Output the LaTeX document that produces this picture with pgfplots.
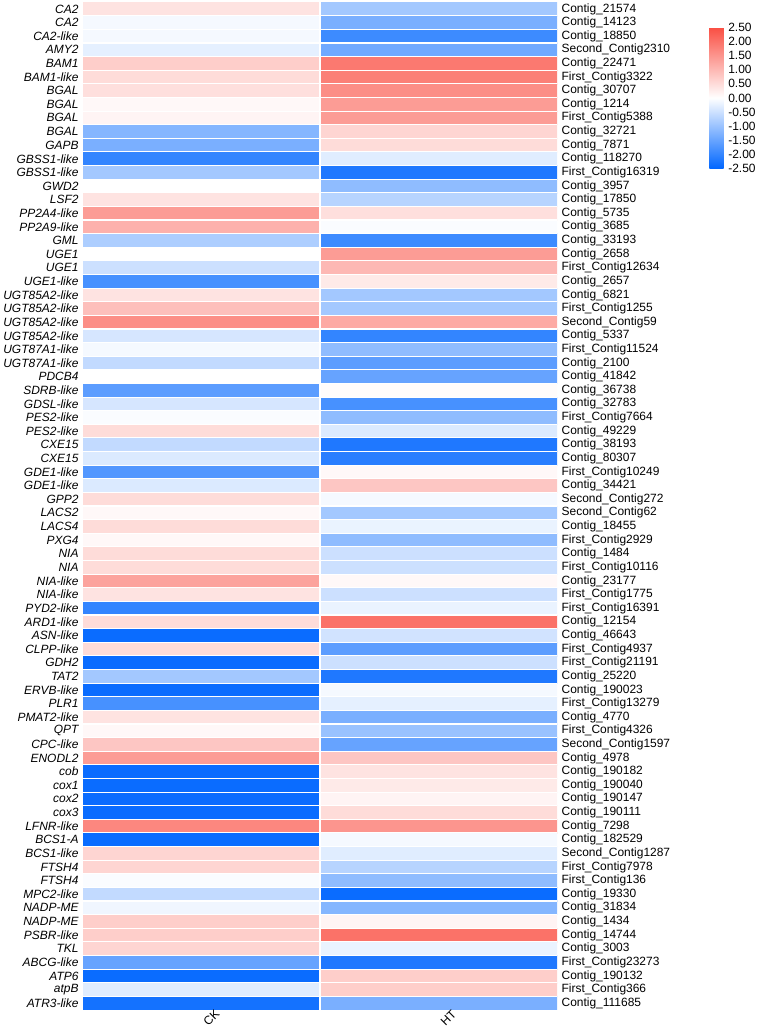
\documentclass[border=0pt]{standalone}
\usepackage{fontspec}
\setmainfont{Liberation Sans}
\usepackage{pgfplots}
\pgfplotsset{compat=1.18}
\usepackage{pgfplotstable}

\pgfplotstableread{
x y v
0 0 0.4
1 0 -0.9
0 1 -0.1
1 1 -1.3
0 2 -0.1
1 2 -1.9
0 3 -0.25
1 3 -1.4
0 4 0.7
1 4 1.9
0 5 0.5
1 5 1.8
0 6 0.45
1 6 1.6
0 7 0.1
1 7 1.4
0 8 0.15
1 8 1.4
0 9 -1.2
1 9 0.6
0 10 -1.3
1 10 0.5
0 11 -2.0
1 11 -0.3
0 12 -0.9
1 12 -2.2
0 13 0.0
1 13 -1.1
0 14 0.4
1 14 -0.7
0 15 1.4
1 15 0.45
0 16 1.1
1 16 -0.05
0 17 -0.8
1 17 -1.9
0 18 0.0
1 18 1.4
0 19 -0.5
1 19 1.0
0 20 -1.8
1 20 0.3
0 21 0.4
1 21 -0.9
0 22 0.9
1 22 -0.9
0 23 1.6
1 23 1.2
0 24 -0.4
1 24 -2.0
0 25 -0.1
1 25 -1.1
0 26 -0.6
1 26 -1.6
0 27 0.0
1 27 -1.5
0 28 -1.6
1 28 0.05
0 29 -0.4
1 29 -1.8
0 30 -0.05
1 30 -1.1
0 31 0.5
1 31 -0.35
0 32 -0.6
1 32 -2.2
0 33 -0.35
1 33 -2.1
0 34 -1.7
1 34 0.1
0 35 -0.35
1 35 0.8
0 36 0.5
1 36 -0.1
0 37 0.1
1 37 -0.9
0 38 0.5
1 38 -0.2
0 39 0.1
1 39 -1.1
0 40 0.5
1 40 -0.5
0 41 0.5
1 41 -0.5
0 42 1.3
1 42 0.1
0 43 0.4
1 43 -0.5
0 44 -2.0
1 44 -0.2
0 45 0.5
1 45 2.0
0 46 -2.4
1 46 -0.45
0 47 0.5
1 47 -1.6
0 48 -2.4
1 48 -0.5
0 49 -0.9
1 49 -2.2
0 50 -2.4
1 50 -0.1
0 51 -1.8
1 51 -0.25
0 52 0.4
1 52 -1.3
0 53 0.1
1 53 -1.0
0 54 0.8
1 54 -1.5
0 55 1.4
1 55 0.8
0 56 -2.4
1 56 0.4
0 57 -2.4
1 57 0.3
0 58 -2.4
1 58 0.15
0 59 -2.4
1 59 0.5
0 60 1.7
1 60 1.5
0 61 -2.4
1 61 -0.1
0 62 0.6
1 62 -0.3
0 63 0.6
1 63 -0.7
0 64 -0.05
1 64 -1.1
0 65 -0.6
1 65 -2.4
0 66 -0.15
1 66 -1.2
0 67 0.7
1 67 0.15
0 68 0.7
1 68 2.0
0 69 0.6
1 69 -0.2
0 70 -1.5
1 70 -2.2
0 71 -2.4
1 71 0.7
0 72 -0.3
1 72 0.7
0 73 -2.3
1 73 -1.3
}\heatdata

\pgfplotsset{
  hmbase/.style={
    at={(81pt,1034pt)}, anchor=north west,
    scale only axis, width=475pt, height=1010pt,
    xmin=-0.5, xmax=1.5, ymin=-0.5, ymax=73.5, y dir=reverse,
    ytick={0,...,73},
    tick style={draw=none},
    axis line style={draw=none},
    tick label style={font=\fontsize{12}{13}\selectfont},
  }
}

\begin{document}
\begin{tikzpicture}
\path (0,0) rectangle (749pt,1034pt);
\begin{axis}[
  hmbase,
  xtick={0,1}, xticklabels={CK,HT},
  xticklabel style={rotate=45, anchor=center, yshift=-12.5pt, xshift=1.5pt},
  yticklabels={CA2,CA2,CA2-like,AMY2,BAM1,BAM1-like,BGAL,BGAL,BGAL,BGAL,GAPB,GBSS1-like,GBSS1-like,GWD2,LSF2,PP2A4-like,PP2A9-like,GML,UGE1,UGE1,UGE1-like,UGT85A2-like,UGT85A2-like,UGT85A2-like,UGT85A2-like,UGT87A1-like,UGT87A1-like,PDCB4,SDRB-like,GDSL-like,PES2-like,PES2-like,CXE15,CXE15,GDE1-like,GDE1-like,GPP2,LACS2,LACS4,PXG4,NIA,NIA,NIA-like,NIA-like,PYD2-like,ARD1-like,ASN-like,CLPP-like,GDH2,TAT2,ERVB-like,PLR1,PMAT2-like,QPT,CPC-like,ENODL2,cob,cox1,cox2,cox3,LFNR-like,BCS1-A,BCS1-like,FTSH4,FTSH4,MPC2-like,NADP-ME,NADP-ME,PSBR-like,TKL,ABCG-like,ATP6,atpB,ATR3-like},
  yticklabel style={font=\fontsize{12}{13}\selectfont\itshape, xshift=-1pt},
  colormap={bwr}{rgb255=(0,102,255) rgb255=(255,255,255) rgb255=(250,78,66)},
  point meta min=-2.5, point meta max=2.5,
  colorbar,
  colorbar style={
    at={(parent axis.north east)}, anchor=north west,
    xshift=144pt, yshift=-25pt,
    scale only axis, width=18pt, height=142pt,
    ytick={-2.5,-2,...,2.5},
    axis line style={draw=none}, tick style={draw=none},
    yticklabel style={font=\fontsize{12}{13}\selectfont, xshift=-2.5pt,
      /pgf/number format/.cd, fixed, fixed zerofill, precision=2, assume math mode=true},
  },
  axis on top,
  extra y ticks={0.5,1.5,...,72.5},
  extra y tick labels={},
  extra y tick style={grid=major, major grid style={white, line width=1.1pt}},
  extra x ticks={0.5},
  extra x tick labels={},
  extra x tick style={grid=major, major grid style={white, line width=1.4pt}},
]
\addplot[matrix plot*, mesh/cols=2, point meta=explicit] table[x=x, y=y, meta=v]{\heatdata};
\end{axis}
\begin{axis}[
  hmbase,
  xtick=\empty,
  yticklabel pos=right,
  yticklabels={Contig\_21574,Contig\_14123,Contig\_18850,Second\_Contig2310,Contig\_22471,First\_Contig3322,Contig\_30707,Contig\_1214,First\_Contig5388,Contig\_32721,Contig\_7871,Contig\_118270,First\_Contig16319,Contig\_3957,Contig\_17850,Contig\_5735,Contig\_3685,Contig\_33193,Contig\_2658,First\_Contig12634,Contig\_2657,Contig\_6821,First\_Contig1255,Second\_Contig59,Contig\_5337,First\_Contig11524,Contig\_2100,Contig\_41842,Contig\_36738,Contig\_32783,First\_Contig7664,Contig\_49229,Contig\_38193,Contig\_80307,First\_Contig10249,Contig\_34421,Second\_Contig272,Second\_Contig62,Contig\_18455,First\_Contig2929,Contig\_1484,First\_Contig10116,Contig\_23177,First\_Contig1775,First\_Contig16391,Contig\_12154,Contig\_46643,First\_Contig4937,First\_Contig21191,Contig\_25220,Contig\_190023,First\_Contig13279,Contig\_4770,First\_Contig4326,Second\_Contig1597,Contig\_4978,Contig\_190182,Contig\_190040,Contig\_190147,Contig\_190111,Contig\_7298,Contig\_182529,Second\_Contig1287,First\_Contig7978,First\_Contig136,Contig\_19330,Contig\_31834,Contig\_1434,Contig\_14744,Contig\_3003,First\_Contig23273,Contig\_190132,First\_Contig366,Contig\_111685},
  yticklabel style={xshift=1pt},
]
\end{axis}
\end{tikzpicture}
\end{document}
